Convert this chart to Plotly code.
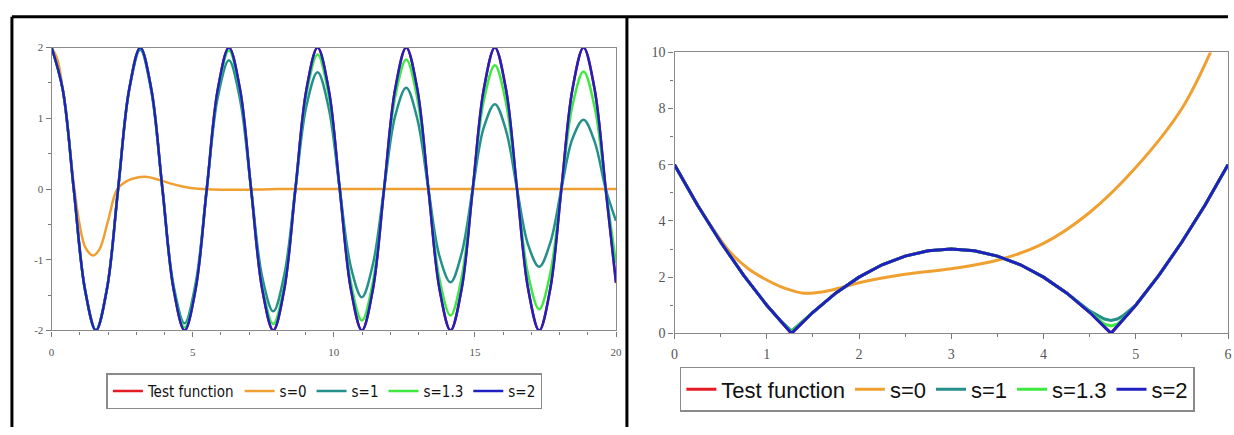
import plotly.graph_objects as go

# ---------------- Left panel data (x from 0 to 20) ----------------
x_left = [0.000, 0.393, 0.785, 1.178, 1.571, 1.963, 2.356, 2.749, 3.142, 3.534,
          3.927, 4.320, 4.712, 5.105, 5.498, 5.890, 6.283, 6.676, 7.069, 7.461,
          7.854, 8.247, 8.639, 9.032, 9.425, 9.817, 10.210, 10.603, 10.996, 11.388,
          11.781, 12.174, 12.566, 12.959, 13.352, 13.744, 14.137, 14.530, 14.923, 15.315,
          15.708, 16.101, 16.493, 16.886, 17.279, 17.671, 18.064, 18.457, 18.850, 19.242,
          19.635, 20.000]

left_test = [2.00, 1.41, 0, -1.41, -2.00, -1.41, 0, 1.41, 2.00, 1.41,
             0, -1.41, -2.00, -1.41, 0, 1.41, 2.00, 1.41, 0, -1.41,
             -2.00, -1.41, 0, 1.41, 2.00, 1.41, 0, -1.41, -2.00, -1.41,
             0, 1.41, 2.00, 1.41, 0, -1.41, -2.00, -1.41, 0, 1.41,
             2.00, 1.41, 0, -1.41, -2.00, -1.41, 0, 1.41, 2.00, 1.41,
             0, -1.33]

left_s1 = [2.00, 1.41, 0, -1.41, -1.99, -1.40, 0, 1.40, 1.97, 1.38,
           0, -1.36, -1.90, -1.33, 0, 1.30, 1.82, 1.27, 0, -1.24,
           -1.73, -1.21, 0, 1.18, 1.65, 1.15, 0, -1.10, -1.53, -1.06,
           0, 1.03, 1.43, 0.99, 0, -0.95, -1.32, -0.91, 0, 0.87,
           1.20, 0.83, 0, -0.79, -1.10, -0.76, 0, 0.71, 0.98, 0.67,
           0, -0.45]

left_s13 = [2.00, 1.41, 0, -1.41, -2.00, -1.41, 0, 1.41, 2.00, 1.41,
            0, -1.40, -1.96, -1.39, 0, 1.39, 1.96, 1.38, 0, -1.37,
            -1.91, -1.36, 0, 1.35, 1.90, 1.33, 0, -1.32, -1.86, -1.31,
            0, 1.30, 1.83, 1.28, 0, -1.27, -1.79, -1.25, 0, 1.25,
            1.75, 1.22, 0, -1.21, -1.70, -1.19, 0, 1.18, 1.66, 1.16,
            0, -1.05]

left_s2 = [2.00, 1.41, 0, -1.41, -2.00, -1.41, 0, 1.41, 2.00, 1.41,
           0, -1.41, -2.00, -1.41, 0, 1.41, 2.00, 1.41, 0, -1.41,
           -2.00, -1.41, 0, 1.41, 2.00, 1.41, 0, -1.41, -2.00, -1.41,
           0, 1.41, 2.00, 1.41, 0, -1.41, -2.00, -1.41, 0, 1.41,
           2.00, 1.41, 0, -1.41, -2.00, -1.41, 0, 1.41, 2.00, 1.41,
           0, -1.32]

x_left_s0 = [0.0, 0.2, 0.4, 0.6, 0.8, 1.0, 1.2, 1.47, 1.7, 2.0, 2.33, 2.7, 3.0,
             3.4, 3.8, 4.2, 4.6, 5.0, 5.5, 6.0, 7.0, 8.0, 10.0, 15.0, 20.0]
left_s0 = [2.00, 1.84, 1.40, 0.76, 0.02, -0.52, -0.83, -0.94, -0.85, -0.45, 0.0, 0.12, 0.16,
           0.17, 0.13, 0.08, 0.04, 0.01, -0.005, -0.01, -0.01, 0.0, 0.0, 0.0, 0.0]

# ---------------- Right panel data (x from 0 to 6) ----------------
x_right = [0, 0.25, 0.5, 0.75, 1.0, 1.268, 1.5, 1.75, 2.0, 2.25, 2.5, 2.75, 3.0,
           3.25, 3.5, 3.75, 4.0, 4.25, 4.5, 4.732, 5.0, 5.25, 5.5, 5.75, 6.0]
right_test = [6.0, 4.56, 3.25, 2.06, 1.0, 0.0, 0.75, 1.44, 2.0, 2.44, 2.75, 2.94, 3.0,
              2.94, 2.75, 2.44, 2.0, 1.44, 0.75, 0.0, 1.0, 2.06, 3.25, 4.56, 6.0]
right_s2 = [6.0, 4.56, 3.25, 2.06, 1.0, 0.0, 0.75, 1.44, 2.0, 2.44, 2.75, 2.94, 3.0,
            2.94, 2.75, 2.44, 2.0, 1.44, 0.75, 0.0, 1.0, 2.06, 3.25, 4.56, 6.0]

x_right_fine = [0, 0.25, 0.5, 0.75, 1.0, 1.15, 1.268, 1.4, 1.5, 1.75, 2.0, 2.25, 2.5,
                2.75, 3.0, 3.25, 3.5, 3.75, 4.0, 4.25, 4.5, 4.6, 4.66, 4.732, 4.8,
                4.86, 5.0, 5.25, 5.5, 5.75, 6.0]
right_s1 = [6.0, 4.56, 3.25, 2.06, 1.0, 0.44, 0.09, 0.46, 0.76, 1.44, 2.0, 2.44, 2.75,
            2.94, 3.0, 2.94, 2.75, 2.44, 2.0, 1.44, 0.80, 0.60, 0.51, 0.46, 0.51,
            0.62, 1.0, 2.06, 3.25, 4.56, 6.0]
right_s13 = [6.0, 4.56, 3.25, 2.06, 1.0, 0.43, 0.05, 0.45, 0.75, 1.44, 2.0, 2.44, 2.75,
             2.94, 3.0, 2.94, 2.75, 2.44, 2.0, 1.44, 0.76, 0.48, 0.33, 0.26, 0.33,
             0.50, 1.0, 2.06, 3.25, 4.56, 6.0]

x_right_s0 = [0.0, 0.2, 0.4, 0.6, 0.8, 1.0, 1.2, 1.4, 1.6, 1.8, 2.0, 2.5, 3.0, 3.5,
              4.0, 4.5, 5.0, 5.5, 5.85]
right_s0 = [6.0, 4.86, 3.80, 2.90, 2.30, 1.90, 1.60, 1.43, 1.47, 1.62, 1.80, 2.10, 2.30,
            2.60, 3.20, 4.30, 5.90, 8.00, 10.30]

# ---------------- Tick labels ----------------
left_xticks = [0, 5, 10, 15, 20]
left_xticktext = ["0", "5", "10", "15", "20"]
left_yticks = [-2, -1, 0, 1, 2]
left_yticktext = ["-2", "-1", "0", "1", "2"]
right_xticks = [0, 1, 2, 3, 4, 5, 6]
right_xticktext = ["0", "1", "2", "3", "4", "5", "6"]
right_yticks = [0, 2, 4, 6, 8, 10]
right_yticktext = ["0", "2", "4", "6", "8", "10"]

names = ["Test function", "s=0", "s=1", "s=1.3", "s=2"]
colors = ["#e31b23", "#f0a030", "#25908a", "#3ee83e", "#2020c0"]

W, H = 1234, 435


def px(x):
    return x / W


def py(y):
    return 1 - y / H


fig = go.Figure()

left_series = [(x_left, left_test), (x_left_s0, left_s0), (x_left, left_s1),
               (x_left, left_s13), (x_left, left_s2)]
for (xs, ys), nm, c in zip(left_series, names, colors):
    fig.add_trace(go.Scatter(x=xs, y=ys, name=nm, mode="lines",
                             line=dict(color=c, width=2.5, shape="spline", smoothing=1),
                             xaxis="x", yaxis="y", legend="legend"))

right_series = [(x_right, right_test), (x_right_s0, right_s0), (x_right_fine, right_s1),
                (x_right_fine, right_s13), (x_right, right_s2)]
for (xs, ys), nm, c in zip(right_series, names, colors):
    shp = "spline" if nm == "s=0" else "linear"
    fig.add_trace(go.Scatter(x=xs, y=ys, name=nm, mode="lines",
                             line=dict(color=c, width=3, shape=shp),
                             xaxis="x2", yaxis="y2", legend="legend2"))

axis_common = dict(showgrid=False, zeroline=False, showline=True, linecolor="#8a8a8a",
                   linewidth=1.2, mirror=True, ticks="outside", tickcolor="#777",
                   ticklen=5, tickwidth=1)

fig.update_layout(
    width=W, height=H,
    margin=dict(l=0, r=0, t=0, b=0),
    paper_bgcolor="white", plot_bgcolor="white",
    xaxis=dict(domain=[px(48), px(617)], range=[0, 20], anchor="y",
               tickvals=left_xticks, ticktext=left_xticktext,
               tickfont=dict(family="Liberation Serif", size=11, color="#555"),
               ticklabelstandoff=6,
               minor=dict(dtick=1, ticks="outside", ticklen=3, tickcolor="#777"),
               **axis_common),
    yaxis=dict(domain=[py(335), py(42)], range=[-2, 2], anchor="x",
               tickvals=left_yticks, ticktext=left_yticktext,
               tickfont=dict(family="Liberation Serif", size=11, color="#555"),
               minor=dict(dtick=0.5, ticks="outside", ticklen=3, tickcolor="#777"),
               **axis_common),
    xaxis2=dict(domain=[px(676), 1.0], range=[0, 6.0], anchor="y2",
                tickvals=right_xticks, ticktext=right_xticktext,
                tickfont=dict(family="Liberation Serif", size=14, color="#555"),
                ticklabelstandoff=3,
                minor=dict(dtick=0.5, ticks="outside", ticklen=3, tickcolor="#777"),
                **axis_common),
    yaxis2=dict(domain=[py(338), py(47)], range=[0, 10], anchor="x2",
                tickvals=right_yticks, ticktext=right_yticktext,
                tickfont=dict(family="Liberation Serif", size=14, color="#555"),
                minor=dict(dtick=1, ticks="outside", ticklen=3, tickcolor="#777"),
                **axis_common),
    legend=dict(orientation="h", x=px(323), y=py(398), xanchor="center", yanchor="middle",
                bgcolor="white", bordercolor="#8a8a8a", borderwidth=1.5,
                font=dict(family="Liberation Sans Narrow, DejaVu Sans Condensed, Arial Narrow, sans-serif",
                          size=15, color="#111"),
                itemwidth=30, tracegroupgap=0),
    legend2=dict(orientation="h", x=px(941), y=py(396), xanchor="center", yanchor="middle",
                 bgcolor="white", bordercolor="#8a8a8a", borderwidth=1.5,
                 font=dict(family="Liberation Sans, Arial, sans-serif", size=22, color="#111"),
                 itemwidth=30, tracegroupgap=0),
    showlegend=True,
)

# table-like black cell borders
border = dict(color="black", width=3)
fig.add_shape(type="line", xref="paper", yref="paper", x0=px(8), x1=1.0,
              y0=py(10), y1=py(10), line=border)
fig.add_shape(type="line", xref="paper", yref="paper", x0=px(8), x1=px(8),
              y0=py(10), y1=0, line=border)
fig.add_shape(type="line", xref="paper", yref="paper", x0=px(628), x1=px(628),
              y0=py(10), y1=0, line=border)

fig.write_html("out.html")
